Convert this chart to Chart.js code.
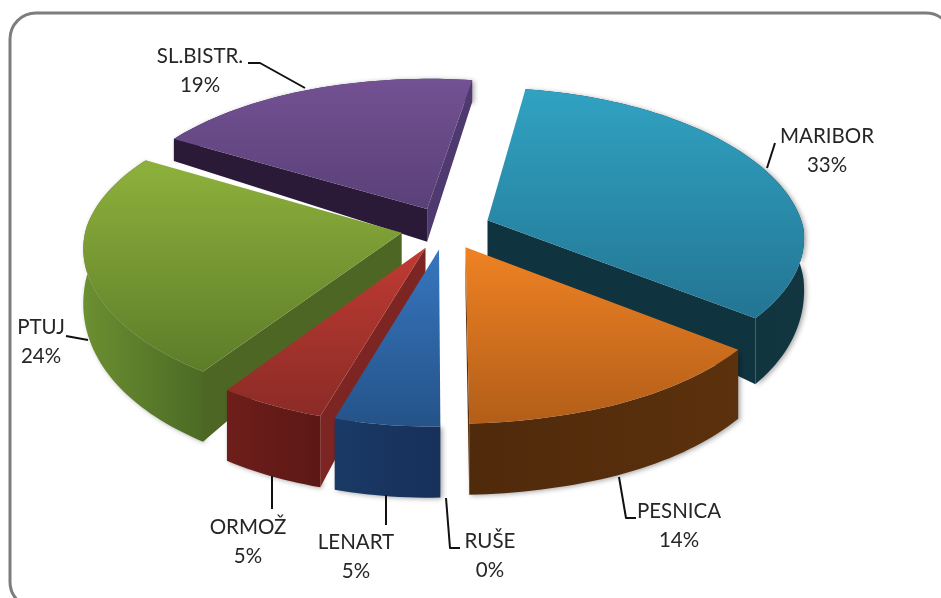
<!DOCTYPE html>
<html><head><meta charset="utf-8">
<style>html,body{margin:0;padding:0;background:#fff}#w{width:941px;height:598px;overflow:hidden}</style>
<script src="https://cdn.jsdelivr.net/npm/chart.js@4/dist/chart.umd.js"></script>
</head><body><div id="w"><canvas id="c" width="941" height="598"></canvas></div>
<script>
const categories = ['MARIBOR','PESNICA','RUŠE','LENART','ORMOŽ','PTUJ','SL.BISTR.'];
const shares = [33,14,0,5,5,24,19];
const topLight = ['#31a2c2','#ef8223','#000000','#3676bf','#bf3b33','#8eb13c','#735193'];
const topDark  = ['#237593','#b25e19','#000000','#255389','#8b2b26','#5d7c29','#5a4078'];
const rimLeft  = ['#113640','#5c310d','#000000','#1a3a66','#6e1e1b','#6b8f31','#2a1a38'];
const rimRight = ['#10323c','#4f2a0b','#000000','#16305a','#5c1815','#4c6a24','#4f3a70'];
const startWall= ['#10343f','#5a2f0c','#000000','#17325a','#7d2522','#4e6623','#2a1a38'];
const endWall  = ['#10343f','#5a2f0c','#000000','#17325a','#621a18','#4e6623','#4f3a70'];
const labelSpots = [[827,136],[679,511],[490,541],[356,542],[248,527],[41,327],[200,56]];
const leaders = [
 [[775,143],[767,168]],
 [[619,477],[626,518],[636,518]],
 [[446,498],[450,548],[460,548]],
 [[386,495],[386,525]],
 [[272,476],[272,509]],
 [[66,336],[88,340]],
 [[248,63],[260,63],[305,88]]
];
const view = {cx:446, cy:228, squash:0.475, persp:0.12, perspBackL:0.11, perspBackR:0.143, perspFrontL:0.068, perspFrontR:0.13, lean:9};

function project(dx,dy,R){
  const y=dy/R, k=1/(1-view.persp*y);
  let px;
  if(y>0) px=dx>0?view.perspFrontL+(view.perspFrontR-view.perspFrontL)*Math.min(1,dx/150):view.perspFrontL;
  else px=dx>0?view.perspBackR:view.perspBackL;
  const kx=1/(1-px*y);
  const lean=y>0?view.lean*y:0;
  return [view.cx+dx*kx-lean, view.cy+view.squash*dy*k];
}
function depth(dx,dy,R){
  const y=dy/R, r=Math.min(1,Math.hypot(dx,dy)/R);
  return Math.max(22,50+38*y-17*y*y-14*(1-r));
}
function poly(ctx,pts){ctx.beginPath();pts.forEach((p,i)=>i?ctx.lineTo(p[0],p[1]):ctx.moveTo(p[0],p[1]));ctx.closePath();}
function faces(A,P,M){
  const ex=P[0]-A[0], ey=P[1]-A[1];
  const side=ex*(M[1]-A[1])-ey*(M[0]-A[0]);
  return ex*side<0;
}

const pie3d = {
  id:'pie3d',
  beforeDraw(chart){
    const ctx=chart.ctx;
    ctx.save();
    ctx.strokeStyle='#7d7d7d';ctx.lineWidth=3;
    ctx.beginPath();ctx.roundRect(10,13,942,595,26);ctx.stroke();
    ctx.restore();
  },
  beforeDatasetDraw(chart,args){
    const ctx=chart.ctx, arcs=args.meta.data;
    const slices=[];
    arcs.forEach((arc,i)=>{
      const {startAngle:a0,endAngle:a1,outerRadius:R}=arc.getProps(['startAngle','endAngle','outerRadius'],true);
      if(a1-a0<1e-4) return;
      const off=arc.options.offset, mid=(a0+a1)/2;
      const ox=Math.cos(mid)*off, oy=Math.sin(mid)*off;
      const disc=[];
      const n=Math.max(8,Math.ceil((a1-a0)*40));
      for(let j=0;j<=n;j++){const a=a0+(a1-a0)*j/n;disc.push([ox+R*Math.cos(a),oy+R*Math.sin(a)]);}
      slices.push({i,R,ox,oy,disc,sort:oy});
    });
    slices.sort((a,b)=>a.sort-b.sort);
    const lower=(d,R)=>{const p=project(d[0],d[1],R);return [p[0],p[1]+depth(d[0],d[1],R)];};
    const sharp=(d,R)=>project(d[0],d[1],R);
    slices.forEach(s=>{
      const {i,R,ox,oy,disc}=s, A=[ox,oy];
      const first=disc[0], last=disc[disc.length-1], middle=disc[disc.length>>1];
      const tops=disc.map(d=>sharp(d,R)), bots=disc.map(d=>lower(d,R)).reverse();
      const xs=tops.map(p=>p[0]);
      const g=ctx.createLinearGradient(Math.min(...xs),0,Math.max(...xs),0);
      g.addColorStop(0,i===0||i===1?rimRight[i]:rimLeft[i]);
      g.addColorStop(1,i===0||i===1?rimLeft[i]:rimRight[i]);
      ctx.save();
      ctx.shadowColor='rgba(0,0,0,0.35)';ctx.shadowBlur=5;ctx.shadowOffsetX=2;ctx.shadowOffsetY=1;
      ctx.fillStyle=g;poly(ctx,tops.concat(bots));ctx.fill();
      ctx.restore();
      if(faces(sharp(A,R),sharp(first,R),sharp(middle,R))){
        ctx.fillStyle=startWall[i];
        poly(ctx,[sharp(A,R),sharp(first,R),lower(first,R),lower(A,R)]);ctx.fill();
      }
      if(faces(sharp(A,R),sharp(last,R),sharp(middle,R))){
        ctx.fillStyle=endWall[i];
        poly(ctx,[sharp(A,R),sharp(last,R),lower(last,R),lower(A,R)]);ctx.fill();
      }
    });
    slices.forEach(s=>{
      const {i,R,ox,oy,disc}=s;
      const pts=[sharp([ox,oy],R)].concat(disc.map(d=>sharp(d,R)));
      const ys=pts.map(p=>p[1]);
      const g=ctx.createLinearGradient(0,Math.min(...ys),0,Math.max(...ys));
      g.addColorStop(0,topLight[i]);g.addColorStop(1,topDark[i]);
      ctx.fillStyle=g;poly(ctx,pts);ctx.fill();
    });
    return false;
  },
  afterDraw(chart){
    const ctx=chart.ctx;
    ctx.save();
    ctx.strokeStyle='#111';ctx.lineWidth=2;ctx.lineJoin='round';
    leaders.forEach(l=>{ctx.beginPath();l.forEach((p,i)=>i?ctx.lineTo(p[0],p[1]):ctx.moveTo(p[0],p[1]));ctx.stroke();});
    ctx.fillStyle='#262626';ctx.font='20.5px Lato';ctx.textAlign='center';ctx.textBaseline='middle';
    categories.forEach((c,i)=>{
      const [x,y]=labelSpots[i];
      ctx.fillText(c,x,y);
      ctx.fillText(shares[i]+'%',x,y+29);
    });
    ctx.restore();
  }
};

new Chart(document.getElementById('c'),{
  type:'pie',
  data:{labels:categories,datasets:[{data:shares,offset:45,borderWidth:0,backgroundColor:topLight}]},
  options:{
    responsive:false,animation:false,rotation:9,radius:316,
    plugins:{legend:{display:false},tooltip:{enabled:false}}
  },
  plugins:[pie3d]
});
</script></body></html>
